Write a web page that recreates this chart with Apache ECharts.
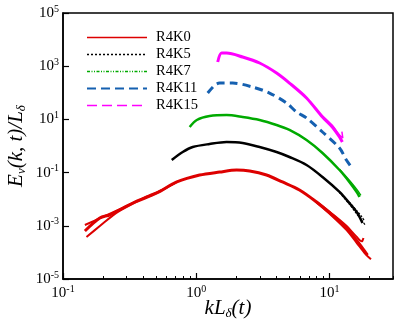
<!DOCTYPE html>
<html><head><meta charset="utf-8">
<script src="https://cdn.jsdelivr.net/npm/echarts@6/dist/echarts.min.js"></script>
<style>html,body{margin:0;padding:0;background:#fff}#c{width:415px;height:323px}</style>
</head><body><div id="c"></div>
<script>
// data: [kL_delta, E_v/L_delta]
const R4K0 = [[0.146,6.4e-4],[0.189,1.96e-3],[0.225,2.6e-3],[0.334,7.2e-3],[0.506,0.0171],[0.715,0.0444],[1.06,0.081],[1.50,0.105],[2.01,0.125],[2.52,0.115],[3.37,0.081],[4.44,0.0444],[5.96,0.0222],[8.0,7.85e-3],[10.5,2.55e-3],[13.4,8.3e-4],[15.9,2.92e-4],[17.7,1.46e-4],[19.3,7.97e-5]];
const R4K0_lo = [[0.15,3.8e-4],[0.19,1.0e-3],[0.25,3.0e-3],[0.33,6.5e-3],[0.42,0.0125],[0.55,0.022],[0.715,0.0444]];
const R4K0_hi = [[0.146,1.07e-3],[0.2,2.2e-3],[0.27,4.3e-3],[0.36,8.5e-3],[0.5,0.0165],[0.715,0.0444]];
const R4K0_end1 = [[8.0,8.2e-3],[10.5,2.8e-3],[13.4,1.0e-3],[15.9,4.0e-4],[17.5,2.6e-4],[18.0,3.5e-4]];
const R4K0_end2 = [[8.0,7.5e-3],[10.5,2.3e-3],[13.4,7.0e-4],[15.9,2.4e-4],[18.5,9e-5],[20.5,5.5e-5]];
const R4K5 = [[0.655,0.298],[0.792,0.594],[0.942,0.916],[1.26,1.19],[1.69,1.41],[2.23,1.30],[2.99,0.916],[4.01,0.594],[5.01,0.386],[6.73,0.193],[8.87,0.0684],[11.9,0.0187],[14.1,7.2e-3],[16.2,3.03e-3],[17.7,1.27e-3]];
const R4K5_end1 = [[11.9,0.0175],[14.1,6.5e-3],[16.2,2.6e-3],[18.5,1.1e-3]];
const R4K5_end2 = [[14.1,7.8e-3],[16.2,3.5e-3],[17.5,2.2e-3],[18.2,1.6e-3]];
const R4K7 = [[0.893,5.18],[1.01,9.48],[1.26,13.4],[1.69,14.6],[2.23,12.3],[2.99,9.48],[4.01,6.15],[5.01,4.0],[6.73,1.68],[8.87,0.546],[11.9,0.125],[14.1,0.0444],[16.2,0.0171],[16.8,0.0121]];
const R4K7_end = [[11.9,0.135],[14.1,0.052],[16.2,0.022],[17.2,0.014]];
const R4K11 = [[1.22,98],[1.38,196],[1.50,233],[1.88,233],[2.65,165],[3.55,98],[4.77,41.4],[5.66,19.0],[6.73,11.3],[8.87,3.36],[11.9,0.84],[13.4,0.298],[14.6,0.163]];
const R4K15 = [[1.45,1439],[1.55,3133],[1.69,3133],[2.23,2218],[2.99,1318],[4.01,555],[5.01,233],[6.73,63.8],[8.87,12.3],[10.5,5.18],[11.9,2.18],[12.5,1.41]];
const R4K15_end = [[8.87,13.5],[10.5,6.0],[11.9,2.6],[12.6,2.0],[12.4,3.5]];
const names = ['R4K0','R4K5','R4K7','R4K11','R4K15'];
const xMajor = [0.1,1,10];
const xMinor = [0.2,0.3,0.4,0.5,0.6,0.7,0.8,0.9,2,3,4,5,6,7,8,9,20,30];
const yTicks = [1e-5,1e-3,1e-1,1e1,1e3,1e5];

const F = 'Liberation Serif';
const C = {R4K0:'#dd0000',R4K5:'#000000',R4K7:'#00aa00',R4K11:'#1560b0',R4K15:'#ff00ff'};
function expLabel(v){ const e = Math.round(Math.log10(v)); return '{b|10}{s|' + e + '}'; }
const labRich = { b:{fontFamily:F,fontSize:15,color:'#000',lineHeight:18}, s:{fontFamily:F,fontSize:10,color:'#000',verticalAlign:'top',lineHeight:18} };
const nameRich = {i:{fontFamily:F,fontStyle:'italic',fontSize:21,color:'#000',lineHeight:24},sub:{fontFamily:F,fontStyle:'italic',fontSize:13,color:'#000',verticalAlign:'bottom',lineHeight:24}};

function line(name, data, width, type){
  return {name:name,type:'line',data:data,symbol:'none',smooth:0.3,
    lineStyle:{color:C[name],width:width,type:type||'solid'},itemStyle:{color:C[name]}};
}

const chart = echarts.init(document.getElementById('c'));
chart.setOption({
  animation:false,
  grid:{left:63,right:22,top:13,bottom:44,show:true,borderColor:'#000',borderWidth:1.5,containLabel:false,outerBoundsMode:'none'},
  legend:{
    orient:'vertical',left:81,top:25,itemWidth:60,itemHeight:10,itemGap:2,
    itemStyle:{color:'rgba(0,0,0,0)',borderColor:'rgba(0,0,0,0)',borderWidth:0,opacity:0},
    textStyle:{fontFamily:F,fontSize:14.5,color:'#000',lineHeight:13,padding:[0,0,0,4]},
    data:[
      {name:'R4K0',lineStyle:{type:'solid',width:1.5}},
      {name:'R4K5',lineStyle:{type:[2,2],width:1.5}},
      {name:'R4K7',lineStyle:{type:[3,1.5,1,1.5,1,1.5],width:1.5}},
      {name:'R4K11',lineStyle:{type:[9,5],width:2}},
      {name:'R4K15',lineStyle:{type:[10,5],width:1.5}}
    ]
  },
  xAxis:[{
    type:'log',min:0.1,max:30,logBase:10,
    name:'{i|kL}{sub|δ}{i|(t)}',nameLocation:'middle',nameGap:17,nameMoveOverlap:false,
    nameTextStyle:{rich:nameRich,verticalAlign:'top'},
    axisLine:{lineStyle:{color:'#000',width:1.5}},
    axisTick:{inside:true,length:6,lineStyle:{color:'#000',width:1.2},customValues:xMajor},
    axisLabel:{customValues:xMajor,margin:5,formatter:expLabel,rich:labRich},
    splitLine:{show:false}
  },{
    type:'log',min:0.1,max:30,logBase:10,position:'bottom',
    axisLine:{show:false},
    axisTick:{inside:true,length:3,lineStyle:{color:'#000',width:1},customValues:xMinor},
    axisLabel:{show:false},splitLine:{show:false}
  }],
  yAxis:{
    type:'log',min:1e-5,max:1e5,logBase:10,
    name:'{i|E}{sub|v}{i|(k, t)/L}{sub|δ}',nameLocation:'middle',nameGap:35,nameRotate:90,nameMoveOverlap:false,
    nameTextStyle:{rich:nameRich},
    axisLine:{lineStyle:{color:'#000',width:1.5}},
    axisTick:{inside:true,length:6,lineStyle:{color:'#000',width:1.2},customValues:yTicks},
    axisLabel:{customValues:yTicks,margin:4,formatter:expLabel,rich:labRich},
    splitLine:{show:false}
  },
  series:[
    line('R4K0',R4K0,3), line('R4K0',R4K0_lo,2), line('R4K0',R4K0_hi,2), line('R4K0',R4K0_end1,2), line('R4K0',R4K0_end2,2),
    line('R4K5',R4K5,2.5), line('R4K5',R4K5_end1,1.2,[2,1.5]), line('R4K5',R4K5_end2,1.2,[2,1.5]),
    line('R4K7',R4K7,2.5), line('R4K7',R4K7_end,1.5),
    line('R4K11',R4K11,3,[8,5]),
    line('R4K15',R4K15,3), line('R4K15',R4K15_end,1.5)
  ]
});
</script></body></html>
